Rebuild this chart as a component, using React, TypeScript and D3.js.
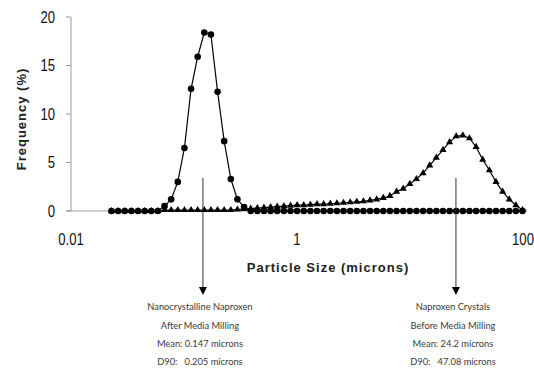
import React from "react";
import * as d3 from "d3";

// particle size bins (microns)
const sizes = [
  0.02282, 0.02613, 0.0299, 0.03423, 0.03918, 0.04484, 0.05133, 0.05876, 0.06725, 0.07698,
  0.08812, 0.1009, 0.1155, 0.1321, 0.1512, 0.1731, 0.1982, 0.2268, 0.2597, 0.2972,
  0.3402, 0.3895, 0.4458, 0.5102, 0.584, 0.6685, 0.7652, 0.8759, 1.0025, 1.147,
  1.313, 1.503, 1.721, 1.97, 2.255, 2.581, 2.954, 3.382, 3.87, 4.43,
  5.071, 5.804, 6.644, 7.605, 8.705, 9.963, 11.4, 13.05, 14.94, 17.1,
  19.57, 22.41, 25.65, 29.36, 33.6, 38.46, 44.02, 50.39, 57.68, 66.02,
  75.57, 86.5, 99.01,
];

// Nanocrystalline naproxen (circles)
const nanoFreq = [
  0, 0, 0, 0, 0, 0, 0, 0, 0.5, 1.2,
  3.0, 6.5, 12.6, 15.9, 18.4, 18.2, 12.3, 7.2, 3.3, 1.2,
  0.4, 0, 0, 0, 0, 0, 0, 0, 0, 0,
  0, 0, 0, 0, 0, 0, 0, 0, 0, 0,
  0, 0, 0, 0, 0, 0, 0, 0, 0, 0,
  0, 0, 0, 0, 0, 0, 0, 0, 0, 0,
  0, 0, 0,
];

// Naproxen crystals (triangles)
const crystalFreq = [
  0, 0, 0, 0, 0, 0, 0, 0, 0.1, 0.1,
  0.1, 0.1, 0.1, 0.1, 0.1, 0.1, 0.1, 0.1, 0.1, 0.15,
  0.2, 0.25, 0.3, 0.35, 0.4, 0.45, 0.5, 0.55, 0.6, 0.6,
  0.65, 0.7, 0.7, 0.75, 0.8, 0.85, 0.9, 0.95, 1.0, 1.1,
  1.2, 1.35, 1.55, 2.0, 2.3, 2.8, 3.3, 3.9, 4.7, 5.5,
  6.3, 7.1, 7.7, 7.8, 7.5, 6.6, 5.3, 4.2, 3.0, 2.0,
  1.2, 0.6, 0.1,
];

const yTicks = [0, 5, 10, 15, 20];
const xTicks = [0.01, 1, 100];
const xTickLabels = ["0.01", "1", "100"];

const arrowSizes = [0.147, 25.5];
const leftNote = [
  "Nanocrystalline Naproxen",
  "After Media Milling",
  "Mean: 0.147 microns",
  "D90:   0.205 microns",
];
const rightNote = [
  "Naproxen Crystals",
  "Before Media Milling",
  "Mean: 24.2 microns",
  "D90:   47.08 microns",
];
const notes = [leftNote, rightNote];

const W = 534;
const H = 370;

export default function App() {
  const x = d3.scaleLog().domain([0.01, 100]).range([71, 523]);
  const y = d3.scaleLinear().domain([0, 20]).range([211, 17]);

  const line = d3
    .line<number>()
    .x((_, i) => x(sizes[i]))
    .y((d) => y(d));

  const circle = d3.symbol().type(d3.symbolCircle).size(34)() as string;
  const tri = d3.symbol().type(d3.symbolTriangle).size(22)() as string;

  const tickFont = "'Liberation Sans', Arial, sans-serif";
  const noteFont = "Lato, 'Open Sans', sans-serif";

  return (
    <svg
      width={W}
      height={H}
      style={{ position: "absolute", left: 0, top: 0, background: "#fff" }}
    >
      <rect x={0} y={0} width={W} height={H} fill="#fff" />
      {/* axes */}
      <line x1={x(0.01)} x2={x(0.01)} y1={y(20)} y2={y(0)} stroke="#9a9a9a" strokeWidth={1} />
      <line x1={x(0.01) - 5} x2={x(100) + 4} y1={y(0)} y2={y(0)} stroke="#9a9a9a" strokeWidth={1} />
      {yTicks.map((t) => (
        <g key={t}>
          <line x1={x(0.01) - 5} x2={x(0.01)} y1={y(t)} y2={y(t)} stroke="#9a9a9a" />
          <text
            transform={`translate(55,${y(t)}) scale(0.82,1)`}
            dy="0.36em"
            textAnchor="end"
            fontFamily={tickFont}
            fontSize={16}
            fill="#111"
          >
            {t}
          </text>
        </g>
      ))}
      {xTicks.map((t, i) => (
        <text
          key={t}
          transform={`translate(${Math.min(x(t), W - 11)},239) scale(0.82,1)`}
          dy="0.36em"
          textAnchor="middle"
          fontFamily={tickFont}
          fontSize={16}
          fill="#111"
        >
          {xTickLabels[i]}
        </text>
      ))}
      {/* axis titles */}
      <text
        x={328}
        y={267}
        dy="0.36em"
        textAnchor="middle"
        fontFamily="'Liberation Sans', Arial, sans-serif"
        fontWeight="bold"
        fontSize={13}
        letterSpacing={1}
        fill="#222"
      >
        Particle Size (microns)
      </text>
      <text
        transform={`translate(21,119) rotate(-90)`}
        dy="0.36em"
        textAnchor="middle"
        fontFamily="'Liberation Sans', Arial, sans-serif"
        fontWeight="bold"
        fontSize={13}
        letterSpacing={1}
        fill="#222"
      >
        Frequency (%)
      </text>

      {/* series lines */}
      <path d={line(crystalFreq) || ""} fill="none" stroke="#000" strokeWidth={1.2} />
      <path d={line(nanoFreq) || ""} fill="none" stroke="#000" strokeWidth={1.2} />
      {crystalFreq.map((v, i) => (
        <path key={"t" + i} d={tri} transform={`translate(${x(sizes[i])},${y(v)})`} fill="#000" />
      ))}
      {nanoFreq.map((v, i) => (
        <path key={"c" + i} d={circle} transform={`translate(${x(sizes[i])},${y(v)})`} fill="#000" />
      ))}

      {/* annotations */}
      {arrowSizes.map((s, k) => {
        const ax = x(s);
        return (
          <g key={"a" + k}>
            <line x1={ax} x2={ax} y1={178} y2={289} stroke="#333" strokeWidth={1} />
            <path d={`M${ax - 4},${287} L${ax + 4},${287} L${ax},${295} Z`} fill="#000" />
            {notes[k].map((t, j) => (
              <text
                key={j}
                x={ax - 3}
                y={307 + j * 18.3}
                dy="0.35em"
                textAnchor="middle"
                fontFamily={noteFont}
                fontSize={9.3}
                fill="#3a3a3a"
                style={{ whiteSpace: "pre" }}
              >
                {t}
              </text>
            ))}
          </g>
        );
      })}
    </svg>
  );
}
